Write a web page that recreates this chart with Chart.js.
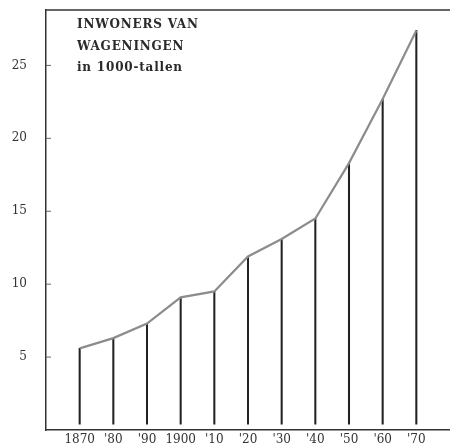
<!DOCTYPE html>
<html>
<head>
<meta charset="utf-8">
<script src="https://cdn.jsdelivr.net/npm/chart.js@4/dist/chart.umd.min.js"></script>
<style>
  html, body { margin: 0; padding: 0; background: #fff; overflow: hidden; }
  canvas { display: block; }
</style>
</head>
<body>
<canvas id="chart" width="450" height="445"></canvas>
<script>
// Inwoners van Wageningen, in duizendtallen
const years = [1870, 1880, 1890, 1900, 1910, 1920, 1930, 1940, 1950, 1960, 1970];
const yearLabels = ['1870', "'80", "'90", '1900', "'10", "'20", "'30", "'40", "'50", "'60", "'70"];
const inwoners = [5.6, 6.3, 7.3, 9.1, 9.5, 11.9, 13.1, 14.5, 18.3, 22.7, 27.4];
const yTicks = [5, 10, 15, 20, 25];
const titleLines = ['INWONERS VAN', 'WAGENINGEN', 'in 1000-tallen'];

const points = years.map((y, i) => ({ x: y, y: inwoners[i] }));
const serif = "'DejaVu Serif', 'Liberation Serif', serif";

// frame on top + small inward ticks on the y axis + caption text
const framePlugin = {
    id: 'frame',
    afterDraw(chart) {
        const { ctx, chartArea, scales } = chart;
        ctx.save();
        ctx.strokeStyle = '#333';
        ctx.lineWidth = 1.5;
        ctx.beginPath();
        ctx.moveTo(chartArea.left, chartArea.top);
        ctx.lineTo(chartArea.right, chartArea.top);
        ctx.stroke();

        ctx.lineWidth = 1;
        ctx.strokeStyle = '#666';
        yTicks.forEach(v => {
            const py = scales.y.getPixelForValue(v);
            ctx.beginPath();
            ctx.moveTo(chartArea.left, py);
            ctx.lineTo(chartArea.left + 5, py);
            ctx.stroke();
        });

        ctx.fillStyle = '#2a2a2a';
        ctx.font = 'bold 12px ' + serif;
        ctx.letterSpacing = '0.8px';
        ctx.textBaseline = 'alphabetic';
        titleLines.forEach((t, i) => {
            ctx.fillText(t, 77, 28 + i * 21.5);
        });
        ctx.restore();
    }
};

new Chart(document.getElementById('chart'), {
    type: 'bar',
    data: {
        datasets: [
            {
                type: 'line',
                data: points,
                borderColor: '#8c8c8c',
                borderWidth: 2.2,
                pointRadius: 0,
                tension: 0,
                order: 0
            },
            {
                type: 'bar',
                data: points,
                base: 0.4,
                backgroundColor: '#222',
                barThickness: 1.4,
                order: 1
            }
        ]
    },
    options: {
        responsive: false,
        animation: false,
        layout: { padding: { top: 10, right: 0, left: 0, bottom: 0 } },
        plugins: {
            legend: { display: false },
            tooltip: { enabled: false }
        },
        scales: {
            x: {
                type: 'linear',
                min: 1860,
                max: 1980,
                offset: false,
                afterFit: s => { s.height = 15; s.paddingLeft = 0; s.paddingRight = 0; },
                afterBuildTicks: s => { s.ticks = years.map(v => ({ value: v })); },
                grid: { display: false, drawTicks: false, offset: false },
                border: { display: true, color: '#333', width: 1.5 },
                ticks: {
                    autoSkip: false,
                    maxRotation: 0,
                    padding: 3,
                    color: '#333',
                    font: { family: serif, size: 12 },
                    callback: v => {
                        const i = years.indexOf(v);
                        return i >= 0 ? yearLabels[i] : '';
                    }
                }
            },
            y: {
                min: 0,
                max: 28.8,
                afterFit: s => { s.width = 46; s.paddingTop = 0; s.paddingBottom = 0; },
                afterBuildTicks: s => { s.ticks = yTicks.map(v => ({ value: v })); },
                grid: { display: false, drawTicks: false },
                border: { display: true, color: '#333', width: 1.5 },
                ticks: {
                    padding: 19,
                    color: '#333',
                    font: { family: serif, size: 12 }
                }
            }
        }
    },
    plugins: [framePlugin]
});
</script>
</body>
</html>
